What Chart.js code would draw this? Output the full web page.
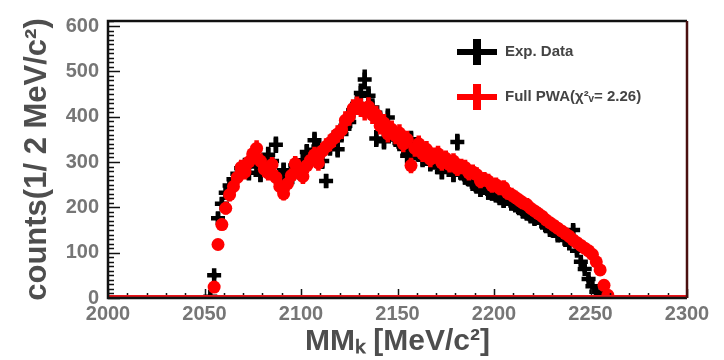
<!DOCTYPE html>
<html>
<head>
<meta charset="utf-8">
<script src="https://cdn.jsdelivr.net/npm/chart.js@4.4.1/dist/chart.umd.min.js"></script>
<style>
  html, body { margin: 0; padding: 0; background: #ffffff; }
  #wrap { width: 724px; height: 360px; }
</style>
</head>
<body>
<div id="wrap"><canvas id="c" width="724" height="360"></canvas></div>
<script>
// Bin centres of the K missing-mass spectrum (2 MeV/c^2 bins)
const massBins = [
  2053, 2055, 2057, 2059, 2061, 2063, 2065, 2067, 2069, 2071,
  2073, 2075, 2077, 2079, 2081, 2083, 2085, 2087, 2089, 2091,
  2093, 2095, 2097, 2099, 2101, 2103, 2105, 2107, 2109, 2111,
  2113, 2115, 2117, 2119, 2121, 2123, 2125, 2127, 2129, 2131,
  2133, 2135, 2137, 2139, 2141, 2143, 2145, 2147, 2149, 2151,
  2153, 2155, 2157, 2159, 2161, 2163, 2165, 2167, 2169, 2171,
  2173, 2175, 2177, 2179, 2181, 2183, 2185, 2187, 2189, 2191,
  2193, 2195, 2197, 2199, 2201, 2203, 2205, 2207, 2209, 2211,
  2213, 2215, 2217, 2219, 2221, 2223, 2225, 2227, 2229, 2231,
  2233, 2235, 2237, 2239, 2241, 2243, 2245, 2247, 2249, 2251,
  2253, 2255, 2257, 2259
];

// Measured counts per bin
const expCounts = [
  3, 50, 176, 208, 232, 248, 262, 274, 286, 292,
  276, 304, 290, 272, 294, 316, 302, 338, 262, 282,
  256, 274, 292, 278, 304, 322, 314, 348, 334, 302,
  258, 332, 350, 328, 362, 380, 388, 414, 428, 452,
  482, 446, 420, 352, 394, 346, 398, 364, 352, 342,
  334, 314, 350, 322, 318, 306, 322, 296, 300, 290,
  278, 292, 284, 272, 344, 276, 266, 262, 252, 246,
  238, 244, 232, 230, 226, 220, 214, 220, 208, 204,
  198, 190, 186, 180, 174, 184, 166, 158, 150, 148,
  138, 142, 128, 120, 150, 104, 80, 64, 42, 26,
  14, 3, null, null
];

// Full partial-wave-analysis result per bin
const pwaCounts = [
  null, 24, 118, 162, 198, 228, 246, 266, 288, 278,
  300, 318, 330, 302, 284, 276, 294, 266, 246, 230,
  252, 270, 296, 282, 268, 292, 304, 316, 298, 324,
  334, 342, 352, 362, 370, 392, 400, 418, 424, 420,
  412, 422, 404, 404, 380, 386, 362, 372, 358, 364,
  340, 350, 292, 330, 340, 318, 328, 306, 314, 318,
  298, 308, 294, 302, 286, 290, 288, 276, 278, 272,
  258, 262, 258, 248, 250, 242, 244, 232, 228, 222,
  216, 210, 206, 198, 192, 186, 180, 172, 166, 160,
  154, 148, 142, 136, 128, 122, 116, 110, 104, 96,
  80, 62, 28, 6
];

const xTicks = [2000, 2050, 2100, 2150, 2200, 2250, 2300];
const yTicks = [0, 100, 200, 300, 400, 500, 600];

const seriesNames = ['Exp. Data', 'Full PWA(\u03C7\u00B2\u1D65= 2.26)'];

function points(values) {
  const out = [];
  massBins.forEach((m, i) => {
    if (values[i] !== null) out.push({ x: m, y: values[i] });
  });
  return out;
}

const family = "'Liberation Sans', Arial, sans-serif";
const tickFont = { family, size: 20, weight: 'bold' };

// Vertical statistical error bars (sqrt of the bin content), drawn right after each dataset
const errorBarPlugin = {
  id: 'errorBars',
  afterDatasetDraw(chart, args) {
    const ds = chart.data.datasets[args.index];
    const y = chart.scales.y;
    const ctx = chart.ctx;
    ctx.save();
    ctx.strokeStyle = ds.barColor;
    ctx.lineWidth = ds.barWidth;
    ctx.beginPath();
    args.meta.data.forEach((el, i) => {
      const v = ds.data[i].y;
      const e = Math.sqrt(Math.max(v, 1));
      const top = y.getPixelForValue(v + e);
      const bot = y.getPixelForValue(Math.max(v - e, 0));
      ctx.moveTo(el.x, top);
      ctx.lineTo(el.x, bot);
    });
    ctx.stroke();
    ctx.restore();
  }
};

// Frame, inward tick marks and the fit's zero line
const framePlugin = {
  id: 'frame',
  afterDatasetsDraw(chart) {
    const { ctx, chartArea: a, scales: { x, y } } = chart;
    ctx.save();
    ctx.strokeStyle = '#111';
    ctx.lineWidth = 1.5;
    ctx.beginPath();
    for (let v = 0; v <= 610; v += 10) {
      const py = Math.round(y.getPixelForValue(v)) + 0.5;
      const len = v % 100 === 0 ? 12 : 6;
      ctx.moveTo(a.left, py);
      ctx.lineTo(a.left + len, py);
    }
    for (let v = 2000; v <= 2300; v += 10) {
      const px = Math.round(x.getPixelForValue(v)) + 0.5;
      const len = v % 50 === 0 ? 9 : 5;
      ctx.moveTo(px, a.bottom);
      ctx.lineTo(px, a.bottom - len);
    }
    ctx.stroke();

    ctx.strokeStyle = '#e8141a';
    ctx.lineWidth = 2;
    ctx.beginPath();
    ctx.moveTo(a.left, a.bottom - 2);
    ctx.lineTo(a.right, a.bottom - 2);
    ctx.stroke();

    ctx.lineWidth = 2.5;
    ctx.strokeStyle = '#111';
    ctx.beginPath();
    ctx.moveTo(a.right, a.top);
    ctx.lineTo(a.left, a.top);
    ctx.lineTo(a.left, a.bottom);
    ctx.lineTo(a.right, a.bottom);
    ctx.stroke();
    ctx.strokeStyle = '#4a1010';
    ctx.beginPath();
    ctx.moveTo(a.right, a.top);
    ctx.lineTo(a.right, a.bottom);
    ctx.stroke();
    ctx.restore();
  }
};

// Legend in the upper right of the frame
const legendPlugin = {
  id: 'boxLegend',
  afterDraw(chart) {
    const { ctx, chartArea: a } = chart;
    const rows = [
      { color: '#000000', text: seriesNames[0], cy: a.top + 31 },
      { color: '#ff0000', text: seriesNames[1], cy: a.top + 76 }
    ];
    const cx = a.left + 369;
    ctx.save();
    rows.forEach(r => {
      ctx.fillStyle = r.color;
      ctx.fillRect(cx - 20, r.cy - 3, 40, 6);
      ctx.fillRect(cx - 4, r.cy - 13, 8, 26);
      ctx.fillStyle = '#444444';
      ctx.font = 'bold 15px ' + family;
      ctx.textBaseline = 'middle';
      ctx.fillText(r.text, cx + 28, r.cy);
    });
    ctx.restore();
  }
};

new Chart(document.getElementById('c'), {
  type: 'scatter',
  data: {
    datasets: [
      {
        label: seriesNames[1],
        data: points(pwaCounts),
        pointStyle: 'circle',
        pointRadius: 6.5,
        pointBackgroundColor: '#ff0000',
        pointBorderWidth: 0,
        barColor: '#ff0000',
        barWidth: 4.5,
        order: 0
      },
      {
        label: seriesNames[0],
        data: points(expCounts),
        pointStyle: 'cross',
        pointRadius: 7,
        pointBorderColor: '#000000',
        pointBorderWidth: 4.5,
        barColor: '#000000',
        barWidth: 4.5,
        order: 1
      }
    ]
  },
  options: {
    responsive: false,
    animation: false,
    devicePixelRatio: 1,
    layout: { padding: { top: 12, right: 37, left: 0, bottom: 0 } },
    plugins: { legend: { display: false }, tooltip: { enabled: false } },
    scales: {
      x: {
        type: 'linear',
        min: 2000,
        max: 2300,
        afterBuildTicks: s => { s.ticks = xTicks.map(v => ({ value: v })); },
        afterFit: s => { s.height = 62; },
        grid: { display: false, drawTicks: false },
        border: { display: false },
        ticks: {
          font: tickFont, color: '#767676', padding: 4, maxRotation: 0, autoSkip: false,
          callback: v => String(v)
        },
        title: {
          display: true,
          text: 'MM\u2096 [MeV/c\u00B2]',
          font: { family, size: 30, weight: 'bold' },
          color: '#4e4e4e',
          padding: { top: 2, bottom: 0 }
        }
      },
      y: {
        min: 0,
        max: 611,
        afterBuildTicks: s => { s.ticks = yTicks.map(v => ({ value: v })); },
        afterFit: s => { s.width = 108; },
        grid: { display: false, drawTicks: false },
        border: { display: false },
        ticks: { font: tickFont, color: '#767676', padding: 9, autoSkip: false },
        title: {
          display: true,
          text: 'counts(1/ 2 MeV/c\u00B2)',
          font: { family, size: 31, weight: 'bold' },
          color: '#4e4e4e',
          padding: { top: 19, bottom: 0 }
        }
      }
    }
  },
  plugins: [errorBarPlugin, framePlugin, legendPlugin]
});
</script>
</body>
</html>
